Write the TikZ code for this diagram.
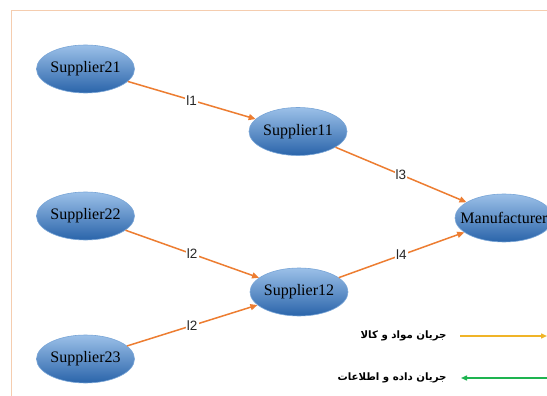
\documentclass[tikz,border=0pt]{standalone}
\usepackage{fontspec}
\setmainfont{Liberation Serif}
\newfontfamily\labelfont{Liberation Sans}
\newfontfamily\arabicfont[Script=Arabic]{DejaVu Sans}
\TeXXeTstate=1
\usetikzlibrary{shapes.geometric,arrows.meta}
\definecolor{framecol}{RGB}{245,205,175}
\definecolor{flow}{RGB}{237,125,49}
\definecolor{ylw}{RGB}{240,180,40}
\definecolor{grn}{RGB}{30,180,80}
\definecolor{etop}{RGB}{155,192,232}
\definecolor{ebot}{RGB}{42,100,170}
\definecolor{eline}{RGB}{120,165,215}
\tikzset{
  actor/.style={ellipse, minimum width=98pt, minimum height=48pt, inner sep=0pt,
    top color=etop, bottom color=ebot, draw=eline, line width=0.6pt,
    font=\fontsize{16}{18}\selectfont, text=black},
  flowline/.style={draw=flow, line width=1.5pt, -{Triangle[length=7pt,width=6pt]}},
  flowlabel/.style={fill=white, inner sep=1pt, font=\labelfont\fontsize{13.5}{14}\selectfont, text=black!85},
  legtext/.style={anchor=east, font=\arabicfont\bfseries\fontsize{10.2}{12}\selectfont},
}
\begin{document}
\begin{tikzpicture}[x=1pt,y=-1pt]
\clip (0,0) rectangle (547,396);
\fill[white] (0,0) rectangle (547,396);
\draw[framecol, line width=1pt] (11,396) -- (11,11) -- (547,11);

\node[actor] (s21) at (85.5,69) {\makebox[0pt]{Supplier21}};
\node[actor] (s11) at (298,131.5) {\makebox[0pt]{Supplier11}};
\node[actor] (s22) at (85.5,216) {\makebox[0pt]{Supplier22}};
\node[actor] (man) at (504,218) {\makebox[0pt]{Manufacturer}};
\node[actor] (s12) at (299,292) {\makebox[0pt]{Supplier12}};
\node[actor] (s23) at (85.5,359) {\makebox[0pt]{Supplier23}};

\draw[flowline] (s21) -- node[flowlabel] (l1) {l1} (s11);
\draw[flowline] (s11) -- node[flowlabel] (l3) {l3} (man);
\draw[flowline] (s22) -- node[flowlabel] (l2a) {l2} (s12);
\draw[flowline] (s12) -- node[flowlabel] (l4) {l4} (man);
\draw[flowline] (s23) -- node[flowlabel] (l2b) {l2} (s12);

\node[legtext] (t1) at (450,336) {\beginR جریان مواد و کالا\endR};
\node[legtext] (t2) at (450,378) {\beginR جریان داده و اطلاعات\endR};
\coordinate (ya) at (460,336);
\coordinate (yb) at (547,336);
\coordinate (ga) at (547,378);
\coordinate (gb) at (461,378);
\draw[ylw, line width=1.4pt, -{Triangle[length=6pt,width=5pt]}] (ya) -- (yb);
\draw[grn, line width=1.4pt, -{Triangle[length=6pt,width=5pt]}] (ga) -- (gb);
\end{tikzpicture}
\end{document}
